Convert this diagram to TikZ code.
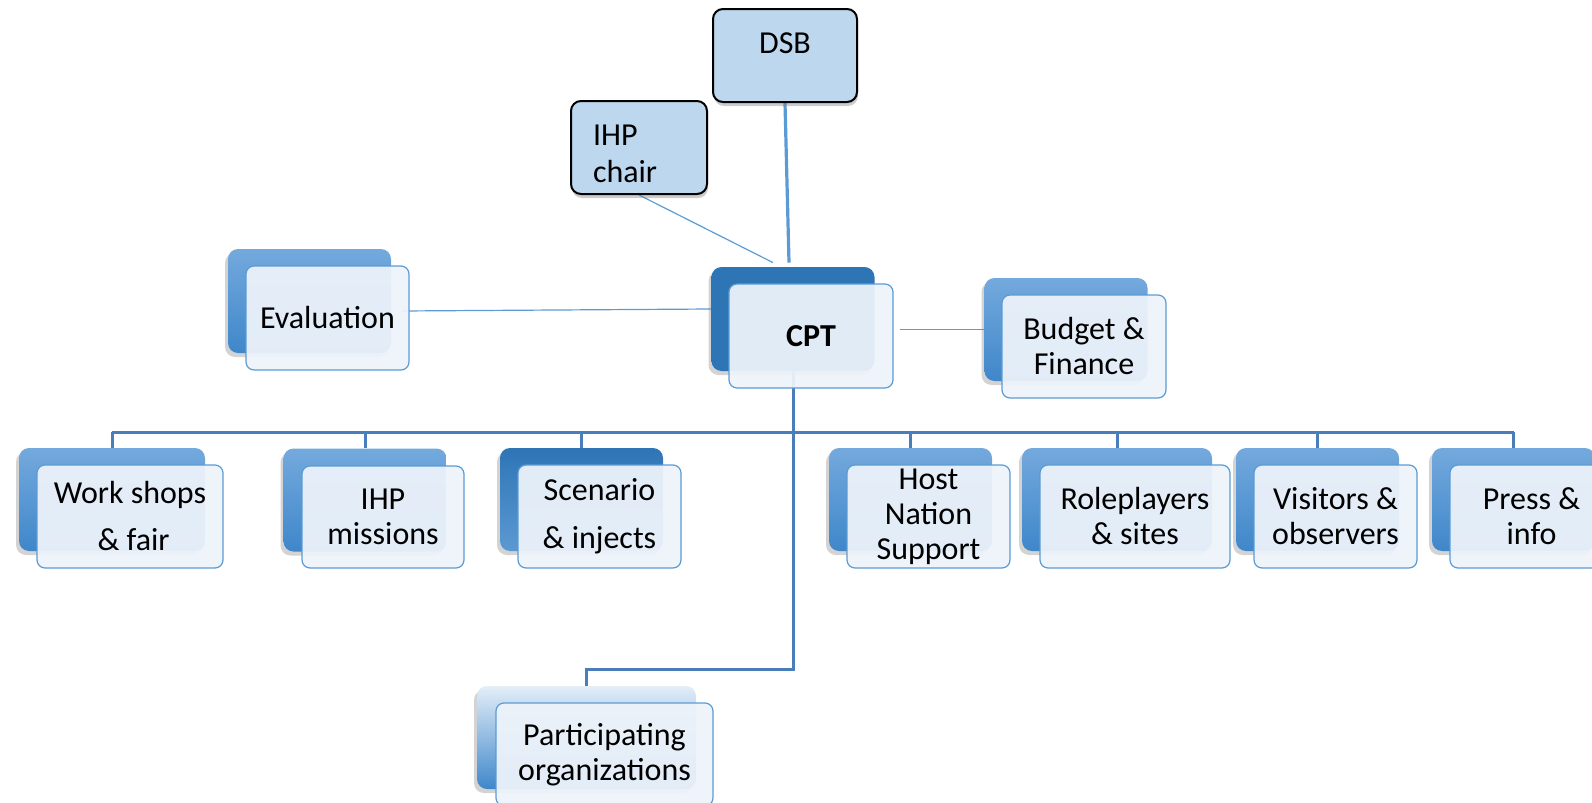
\documentclass[tikz,border=0pt]{standalone}
\usepackage{fontspec}
\setmainfont{Carlito}
\usetikzlibrary{shadows}

\definecolor{toplight}{HTML}{BDD7EE}
\definecolor{backtop}{HTML}{74A9DD}
\definecolor{backbot}{HTML}{3F87CA}
\definecolor{backdark}{HTML}{2E75B6}
\definecolor{frontfill}{HTML}{EDF3FA}
\definecolor{frontline}{HTML}{5B9BD5}
\definecolor{busblue}{HTML}{4A7EBB}

\pgfdeclarelayer{background}
\pgfsetlayers{background,main}

\tikzset{
  boxsize/.style 2 args={minimum width=#1*0.5pt, minimum height=#2*0.5pt},
  back/.style={rounded corners=5pt, inner sep=0pt, top color=backtop, bottom color=backbot,
    drop shadow={shadow xshift=-1.5pt, shadow yshift=-2pt, opacity=0.35}},
  backdark/.style={back, top color=backdark, bottom color=backdark},
  front/.style={draw=frontline, line width=0.6pt, rounded corners=4pt, fill=frontfill,
    fill opacity=0.94, text opacity=1, inner sep=0pt, align=center,
    font=\fontsize{16}{17.5}\selectfont},
  topbox/.style={draw=black, line width=1pt, fill=toplight, rounded corners=5pt, inner sep=0pt,
    drop shadow={shadow xshift=0.5pt, shadow yshift=-2pt, opacity=0.4},
    font=\fontsize{16}{18.5}\selectfont},
  bus/.style={draw=busblue, line width=1.5pt},
  link/.style={draw=frontline, line width=0.6pt},
}

\begin{document}
\begin{tikzpicture}[x=0.5pt, y=-0.5pt]
   % Sizes
   \pgfmathsetmacro{\dx}{18}
   \pgfmathsetmacro{\dy}{17}
   \useasboundingbox (0,0) rectangle (1592,803);

   % top boxes
   \node[topbox, boxsize={144}{93}, text depth=12.5pt] (dsb) at (785,55.5) {DSB};
   \node[topbox, boxsize={136}{93}, align=left, text width=46pt, inner xsep=11pt, text height=17pt] (ihp) at (639,147.5) {IHP\\chair};

   % back boxes
   \node[backdark, boxsize={163}{104}] (cptb) at (811-\dx, 336-\dy) {};
   \node[back, boxsize={163}{104}] (evb) at (327.5-\dx, 318-\dy) {};
   \node[back, boxsize={163}{103}] (bfb) at (1084-\dx, 346.5-\dy) {};
   \node[back, boxsize={186}{103}] (wsb) at (130-\dx, 516.5-\dy) {};
   \node[back, boxsize={163}{103}] (imb) at (383-\dx, 517-\dy) {};
   \node[backdark, bottom color=backbot!85, boxsize={163}{103}] (scb) at (599.5-\dx, 516.5-\dy) {};
   \node[back, boxsize={163}{103}] (hnb) at (928.5-\dx, 516.5-\dy) {};
   \node[back, boxsize={190}{103}] (rpb) at (1135-\dx, 516.5-\dy) {};
   \node[back, boxsize={163}{103}] (vob) at (1335.5-\dx, 516.5-\dy) {};
   \node[back, boxsize={163}{103}] (prb) at (1531.5-\dx, 516.5-\dy) {};
   \node[back, top color=backtop!20, boxsize={219}{103}] (pob) at (604.5-\dx, 754.5-\dy) {};

   % front boxes
   \node[front, boxsize={164}{104}] (cpt) at (811,336) {\textbf{CPT}};
   \node[front, boxsize={163}{104}] (ev) at (327.5,318) {Evaluation};
   \node[front, boxsize={164}{103}] (bf) at (1084,346.5) {Budget \&\\Finance};
   \node[front, boxsize={186}{103}] (ws) at (130,516.5) {Work shops\\[6pt]\ \& fair};
   \node[front, boxsize={162}{102}] (im) at (383,517) {IHP\\missions};
   \node[front, boxsize={163}{103}] (sc) at (599.5,516.5) {Scenario\\[6.5pt]\& injects};
   \node[front, boxsize={163}{103}] (hn) at (928.5,516.5) {Host\\Nation\\Support};
   \node[front, boxsize={190}{103}] (rp) at (1135,516.5) {Roleplayers\\\& sites};
   \node[front, boxsize={163}{103}] (vo) at (1335.5,516.5) {Visitors \&\\observers};
   \node[front, boxsize={163}{103}] (pr) at (1531.5,516.5) {Press \&\\info};
   \node[front, boxsize={217}{103}] (po) at (604.5,754.5) {Participating\\organizations};

   % draw diagram
   \begin{pgfonlayer}{background}
   \coordinate (busy) at (0,432);
   \draw[link, line width=1.6pt] (dsb.south) -- ([xshift=-2pt,yshift=2pt]cptb.north);
   \draw[link] (ihp.south) -- ([xshift=-10pt,yshift=2pt]cptb.north);
   \draw[link] ([xshift=-4pt,yshift=3.5pt]ev.east) -- ([yshift=5pt]cptb.west);
   \draw[link] (cpt.east |- bfb.west) ++(3pt,0) -- (bfb.west);
   \draw[bus] (wsb.north |- busy) -- (prb.north |- busy);
   \foreach \b in {wsb,imb,scb,hnb,rpb,vob,prb}
     \draw[bus] (\b.north) -- (\b.north |- busy);
   \draw[bus] (cptb.south) |- ([yshift=8pt]pob.north) -- (pob.north);
   \end{pgfonlayer}
\end{tikzpicture}
\end{document}
